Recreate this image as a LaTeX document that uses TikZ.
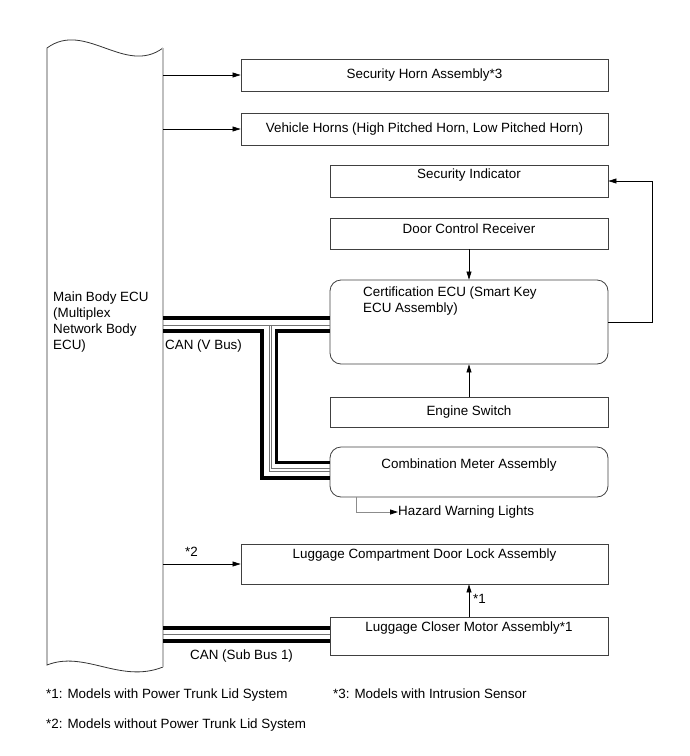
\documentclass[tikz,border=0pt]{standalone}
\usepackage{fontspec}
\setmainfont{Liberation Sans}
\usetikzlibrary{arrows.meta}
\begin{document}
\begin{tikzpicture}[x=1pt,y=-1pt,
  font=\fontsize{13.4}{16}\selectfont,
  box/.style={draw=black!75, line width=0.8pt, inner sep=0pt, minimum width=278pt},
  widebox/.style={box, minimum width=367pt},
  rbox/.style={box, rounded corners=11pt},
  arr/.style={draw=black, line width=0.7pt, -{Triangle[length=8pt,width=5pt]}},
  fat/.style={line width=3.3pt, black},
  slim/.style={line width=0.9pt, black!55},
  txt/.style={inner sep=0pt, text height=9.5pt, text depth=2.7pt},
]
\useasboundingbox (0,0) rectangle (690,756);

% Main Body ECU
\node[inner sep=0pt, minimum width=116pt, minimum height=619pt] (ecu) at (105,357.5) {};
\draw[black!80, line width=0.8pt] (163,48) .. controls (125,76) and (85,20) .. (47,48) -- (47,665) .. controls (85,650) and (120,684) .. (163,667);
\draw[black!25, line width=1.5pt] (ecu.north east) -- (ecu.south east);
\node[anchor=north west, align=left, inner sep=0pt] (ecut) at (53,292) {Main Body ECU\\(Multiplex\\Network Body\\ECU)};

% boxes
\node[widebox, minimum height=32pt] (horn) at (424.5,75) {Security Horn Assembly*3};
\node[widebox, minimum height=32pt] (vh) at (424.5,129) {Vehicle Horns (High Pitched Horn, Low Pitched Horn)};
\node[box, minimum height=32pt] (si) at (469,181) {};
\node[txt] (sit) at (469,175) {Security Indicator};
\node[box, minimum height=31pt] (dcr) at (469,233.5) {};
\node[txt] (dcrt) at (469,230) {Door Control Receiver};
\node[rbox, minimum height=84pt] (cert) at (469,322) {};
\node[anchor=north west, align=left, inner sep=0pt] (certt) at (363,287) {Certification ECU (Smart Key\\ECU Assembly)};
\node[box, minimum height=30pt] (es) at (469,412) {Engine Switch};
\node[rbox, minimum height=50pt] (cm) at (469,472) {};
\node[txt] (cmt) at (469,465) {Combination Meter Assembly};
\node[widebox, minimum height=40pt] (lc) at (424.5,564) {};
\node[txt] (lct) at (424.5,555) {Luggage Compartment Door Lock Assembly};
\node[box, minimum height=38pt] (lm) at (469,636) {};
\node[txt] (lmt) at (469,628) {Luggage Closer Motor Assembly*1};

% arrows
\draw[arr] (ecu.east |- horn.west) -- (horn.west);
\draw[arr] (ecu.east |- vh.west) -- (vh.west);
\draw[arr] (dcr.south) -- (cert.north);
\draw[arr] (es.north) -- (cert.south);
\draw[arr] (cert.east) -- ++(44,0) |- (si.east);
\draw[arr] (ecu.east |- lc.west) -- (lc.west);
\draw[arr] (lm.north) -- (lm.north |- lc.south);
\node[txt, anchor=west] (n2) at (185,553) {*2};
\node[txt, anchor=west] (n1) at (473,600) {*1};

% hazard
\node[txt, anchor=west] (hz) at (398,512) {Hazard Warning Lights};
\coordinate (hzs) at ([xshift=-113pt]cm.south);
\draw[black!45, line width=0.8pt, -{Triangle[length=8pt,width=5pt,color=black]}] (hzs) |- (hz.west);

% CAN V bus
\draw[fat] (ecu.east |- 0,318) -- (cert.west |- 0,318);
\draw[slim] (ecu.east |- 0,325) -- (cert.west |- 0,325);
\draw[fat] (ecu.east |- 0,331) -- (262,331) -- (262,478) -- (cm.west |- 0,478);
\draw[fat] (cert.west |- 0,331) -- (276.5,331) -- (276.5,462.5) -- (cm.west |- 0,462.5);
\draw[slim] (269.3,325) -- (269.3,471.7) -- (cm.west |- 0,471.7);
\draw[slim] (271.9,325) -- (271.9,468.3) -- (cm.west |- 0,468.3);
\node[txt, anchor=west] (canv) at (165,346) {CAN (V Bus)};

% CAN sub bus
\draw[fat] (ecu.east |- 0,628) -- (lm.west |- 0,628);
\draw[slim] (ecu.east |- 0,634.5) -- (lm.west |- 0,634.5);
\draw[fat] (ecu.east |- 0,641) -- (lm.west |- 0,641);
\node[txt, anchor=west] (cans) at (190,656) {CAN (Sub Bus 1)};

% footnotes
\node[txt, anchor=west] (f1) at (46,695) {*1: Models with Power Trunk Lid System};
\node[txt, anchor=west] (f3) at (333,695) {*3: Models with Intrusion Sensor};
\node[txt, anchor=west] (f2) at (46,725) {*2: Models without Power Trunk Lid System};
\end{tikzpicture}
\end{document}
